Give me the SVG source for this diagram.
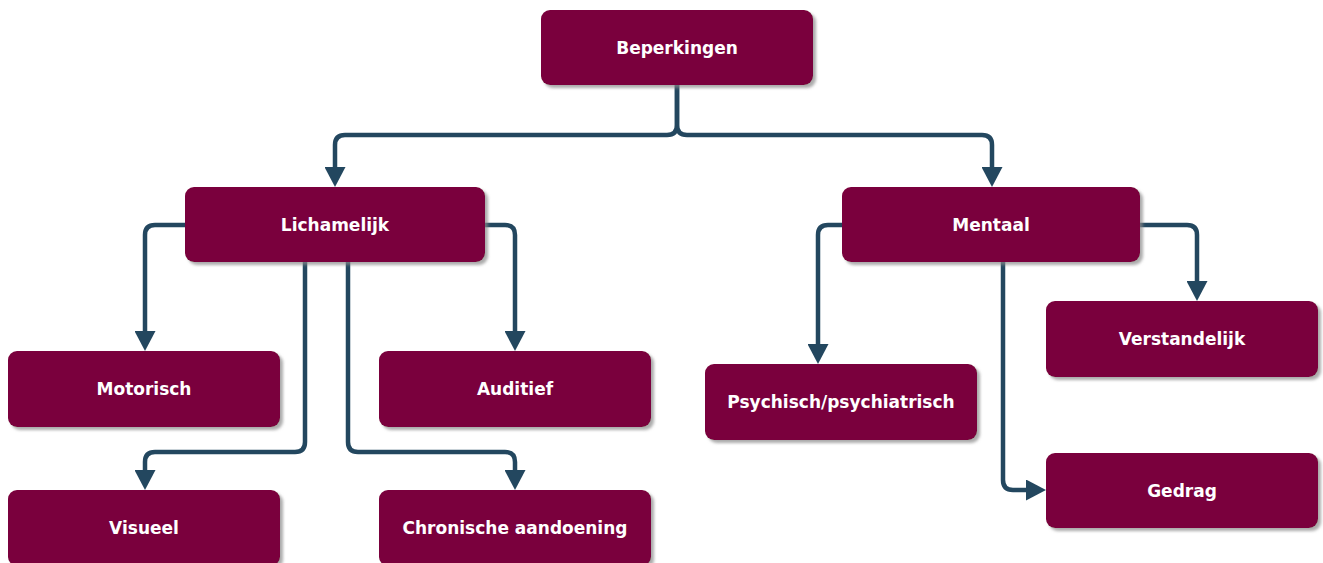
<svg xmlns="http://www.w3.org/2000/svg" width="1323" height="563" viewBox="0 0 1323 563">
<style>
.box{fill:#7a003c;}
.lbl{fill:#ffffff;font-family:"DejaVu Sans","Liberation Sans",sans-serif;font-weight:bold;font-size:17px;text-anchor:middle;}
.edge{fill:none;stroke:#23475f;stroke-width:4.5;marker-end:url(#arr);}
</style>
<defs>
<filter id="sh" x="-10%" y="-10%" width="130%" height="140%">
<feDropShadow dx="3" dy="3" stdDeviation="1.5" flood-color="#888888" flood-opacity="0.7"/>
</filter>
<marker id="arr" markerUnits="userSpaceOnUse" viewBox="0 0 20 21" refX="13" refY="10.5" markerWidth="20" markerHeight="21" orient="auto">
<path d="M0,0 L20,10.5 L0,21 z" fill="#23475f"/>
</marker>
</defs>
<rect width="1323" height="563" fill="#ffffff"/>
<g id="connectors">
<path class="edge" d="M677,85 V125 Q677,135 667,135 H345 Q335,135 335,145 V180"/>
<path class="edge" d="M677,85 V125 Q677,135 687,135 H982 Q992,135 992,145 V180"/>
<path class="edge" d="M185,225 H155 Q145,225 145,235 V344"/>
<path class="edge" d="M485,225 H505 Q515,225 515,235 V344"/>
<path class="edge" d="M305,262 V442 Q305,452 295,452 H155 Q145,452 145,462 V483"/>
<path class="edge" d="M348,262 V442 Q348,452 358,452 H505 Q515,452 515,462 V483"/>
<path class="edge" d="M842,225 H828 Q818,225 818,235 V357"/>
<path class="edge" d="M1140,225 H1187 Q1197,225 1197,235 V294"/>
<path class="edge" d="M1003,262 V480 Q1003,490 1013,490 H1039"/>
</g>
<g id="beperkingen"><rect class="box" filter="url(#sh)" x="541" y="10" width="272" height="75" rx="9"/><text class="lbl" x="677" y="54">Beperkingen</text></g>
<g id="lichamelijk"><rect class="box" filter="url(#sh)" x="185" y="187" width="300" height="75" rx="9"/><text class="lbl" x="335" y="231">Lichamelijk</text></g>
<g id="mentaal"><rect class="box" filter="url(#sh)" x="842" y="187" width="298" height="75" rx="9"/><text class="lbl" x="991" y="231">Mentaal</text></g>
<g id="motorisch"><rect class="box" filter="url(#sh)" x="8" y="351" width="272" height="76" rx="9"/><text class="lbl" x="144" y="395">Motorisch</text></g>
<g id="auditief"><rect class="box" filter="url(#sh)" x="379" y="351" width="272" height="76" rx="9"/><text class="lbl" x="515" y="395">Auditief</text></g>
<g id="visueel"><rect class="box" filter="url(#sh)" x="8" y="490" width="272" height="76" rx="9"/><text class="lbl" x="144" y="534">Visueel</text></g>
<g id="chronische"><rect class="box" filter="url(#sh)" x="379" y="490" width="272" height="76" rx="9"/><text class="lbl" x="515" y="534">Chronische aandoening</text></g>
<g id="psychisch"><rect class="box" filter="url(#sh)" x="705" y="364" width="272" height="76" rx="9"/><text class="lbl" x="841" y="408">Psychisch/psychiatrisch</text></g>
<g id="verstandelijk"><rect class="box" filter="url(#sh)" x="1046" y="301" width="272" height="76" rx="9"/><text class="lbl" x="1182" y="345">Verstandelijk</text></g>
<g id="gedrag"><rect class="box" filter="url(#sh)" x="1046" y="453" width="272" height="75" rx="9"/><text class="lbl" x="1182" y="497">Gedrag</text></g>
</svg>
